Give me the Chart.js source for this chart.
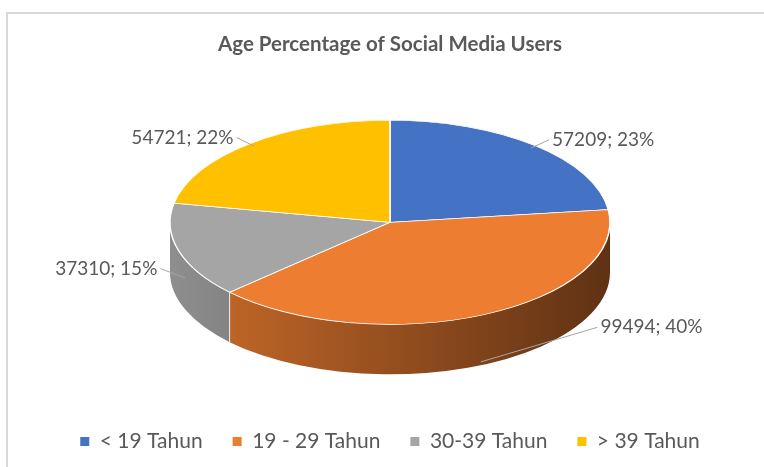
<!DOCTYPE html>
<html>
<head>
<meta charset="utf-8">
<script src="https://cdn.jsdelivr.net/npm/chart.js@4.4.1/dist/chart.umd.min.js"></script>
<style>
	html, body { margin: 0; padding: 0; background: #fff; }
	#wrap { position: relative; width: 764px; height: 467px; overflow: hidden; }
	#frame {
		position: absolute; left: 6px; top: 12px; width: 800px; height: 500px;
		border-left: 2px solid #d9d9d9; border-top: 2px solid #d9d9d9;
	}
	canvas { position: absolute; left: 0; top: 0; }
</style>
</head>
<body>
<div id="wrap">
	<div id="frame"></div>
	<canvas id="ageChart" width="764" height="467"></canvas>
</div>
<script>
// data
const categories = ["< 19 Tahun", "19 - 29 Tahun", "30-39 Tahun", "> 39 Tahun"];
const users = [57209, 99494, 37310, 54721];
const sliceColors = ["#4472c4", "#ed7d31", "#a5a5a5", "#ffc000"];

const FONT = "Lato, 'Open Sans', sans-serif";
const TEXT = "#595959";

function shade(hex, f) {
	const n = parseInt(hex.slice(1), 16);
	const r = Math.round(((n >> 16) & 255) * f);
	const g = Math.round(((n >> 8) & 255) * f);
	const b = Math.round((n & 255) * f);
	return `rgb(${r},${g},${b})`;
}

// flattens the pie into an ellipse and adds the side wall + labels
const pie3d = {
	id: "pie3d",
	geo(chart, opts) {
		const arcs = chart.getDatasetMeta(0).data;
		const r = arcs[0].outerRadius;
		const depth = r * opts.depth;
		return {
			arcs,
			r,
			cx: arcs[0].x,
			ry: r * opts.tilt,
			depth,
			cy: arcs[0].y - depth / 2,
			y0: arcs[0].y,
		};
	},
	beforeDatasetsDraw(chart, args, opts) {
		const { ctx } = chart;
		const g = this.geo(chart, opts);
		const colors = chart.data.datasets[0].backgroundColor;
		g.arcs.forEach((arc, i) => {
			const lo = Math.max(arc.startAngle, 0);
			const hi = Math.min(arc.endAngle, Math.PI);
			if (lo >= hi) return;
			const grad = ctx.createLinearGradient(g.cx - g.r, 0, g.cx + g.r, 0);
			grad.addColorStop(0, shade(colors[i], 0.86));
			grad.addColorStop(1, shade(colors[i], 0.4));
			ctx.save();
			ctx.beginPath();
			ctx.ellipse(g.cx, g.cy, g.r, g.ry, 0, lo, hi);
			ctx.ellipse(g.cx, g.cy + g.depth, g.r, g.ry, 0, hi, lo, true);
			ctx.closePath();
			ctx.fillStyle = grad;
			ctx.fill();
			ctx.restore();
		});
		// white seams between visible side pieces
		ctx.save();
		ctx.strokeStyle = "rgba(255,255,255,0.85)";
		ctx.lineWidth = 1;
		g.arcs.forEach((arc) => {
			const a = arc.startAngle;
			if (a <= 0 || a >= Math.PI) return;
			const x = g.cx + g.r * Math.cos(a);
			const y = g.cy + g.ry * Math.sin(a);
			ctx.beginPath();
			ctx.moveTo(x, y);
			ctx.lineTo(x, y + g.depth);
			ctx.stroke();
		});
		ctx.restore();
	},
	beforeDatasetDraw(chart, args, opts) {
		const { ctx } = chart;
		const g = this.geo(chart, opts);
		ctx.save();
		ctx.translate(0, g.cy);
		ctx.scale(1, opts.tilt);
		ctx.translate(0, -g.y0);
	},
	afterDatasetDraw(chart) {
		chart.ctx.restore();
	},
	afterDatasetsDraw(chart, args, opts) {
		const { ctx } = chart;
		const g = this.geo(chart, opts);
		const values = chart.data.datasets[0].data;
		const total = values.reduce((a, b) => a + b, 0);
		ctx.save();
		ctx.font = `19px ${FONT}`;
		ctx.fillStyle = TEXT;
		ctx.strokeStyle = "#a6a6a6";
		ctx.lineWidth = 1;
		ctx.textBaseline = "middle";
		g.arcs.forEach((arc, i) => {
			const mid = (arc.startAngle + arc.endAngle) / 2;
			const s = Math.sin(mid);
			const side = Math.cos(mid) >= 0 ? 1 : -1;
			let psi = mid;
			if (s > 0.5) psi = side > 0 ? Math.PI / 6 : (5 * Math.PI) / 6;
			const sp = Math.max(0, Math.sin(psi));
			const drop = g.depth * Math.min(1, Math.pow(2 * sp, 2));
			const lx = g.cx + (g.r + 16) * Math.cos(psi) + side * 3;
			const ly = g.cy + (g.ry + 8) * Math.sin(psi) + drop;
			const ax = g.cx + g.r * 0.97 * Math.cos(mid);
			const ay = g.cy + g.ry * 0.97 * s + (s > 0 ? g.depth * Math.min(1, 2 * s) : 0);
			ctx.beginPath();
			ctx.moveTo(ax, ay);
			ctx.lineTo(lx, ly);
			ctx.stroke();
			const pct = Math.round((values[i] / total) * 100);
			ctx.textAlign = side > 0 ? "left" : "right";
			ctx.fillText(`${values[i]}; ${pct}%`, lx + side * 3, ly);
		});
		ctx.restore();
	},
};

Chart.defaults.font.family = FONT;
Chart.defaults.color = TEXT;

const ctx = document.getElementById("ageChart").getContext("2d");
new Chart(ctx, {
	type: "pie",
	data: {
		labels: categories,
		datasets: [
			{
				data: users,
				backgroundColor: sliceColors,
				borderColor: "#ffffff",
				borderWidth: 1.5,
				radius: 220,
				clip: false,
			},
		],
	},
	plugins: [pie3d],
	options: {
		responsive: false,
		animation: false,
		events: [],
		layout: { padding: { top: 32, bottom: 5, left: 16, right: 0 } },
		plugins: {
			pie3d: { tilt: 0.464, depth: 0.227 },
			title: {
				display: true,
				text: "Age Percentage of Social Media Users",
				color: TEXT,
				font: { size: 20.5, weight: "bold" },
				padding: { top: 0, bottom: 37 },
			},
			legend: {
				position: "bottom",
				labels: {
					boxWidth: 9,
					boxHeight: 9,
					padding: 30,
					color: TEXT,
					font: { size: 21 },
					generateLabels(chart) {
						return Chart.overrides.pie.plugins.legend.labels
							.generateLabels(chart)
							.map((l) => ({ ...l, lineWidth: 0 }));
					},
				},
			},
			tooltip: { enabled: false },
		},
	},
});
</script>
</body>
</html>
